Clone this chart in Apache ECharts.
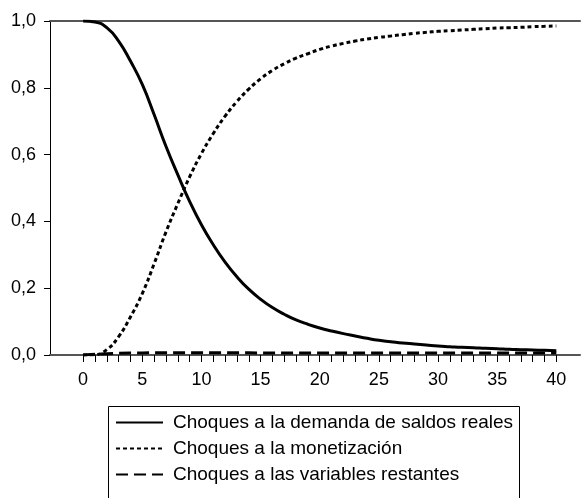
<!DOCTYPE html>
<html>
<head>
<meta charset="utf-8">
<script src="https://cdn.jsdelivr.net/npm/echarts@6/dist/echarts.min.js"></script>
<style>
html,body{margin:0;padding:0;background:#fff;}
#c{width:582px;height:498px;}
</style>
</head>
<body>
<div id="c"></div>
<script>
var periods = [0,1,2,3,4,5,6,7,8,9,10,11,12,13,14,15,16,17,18,19,20,21,22,23,24,25,26,27,28,29,30,31,32,33,34,35,36,37,38,39,40];
var xTickLabels = [0,5,10,15,20,25,30,35,40];
var yTickLabels = [0,0.2,0.4,0.6,0.8,1.0];
var seriesNames = ['Choques a la demanda de saldos reales','Choques a la monetización','Choques a las variables restantes'];
var demanda = [1.0,0.997,0.98,0.94,0.88,0.81,0.72,0.625,0.54,0.46,0.39,0.33,0.278,0.234,0.197,0.167,0.142,0.122,0.105,0.092,0.081,0.072,0.064,0.057,0.050,0.044,0.040,0.036,0.033,0.030,0.027,0.025,0.023,0.022,0.020,0.019,0.017,0.016,0.015,0.014,0.013];
var monetizacion = [0,0.001,0.016,0.055,0.114,0.184,0.273,0.368,0.453,0.533,0.603,0.663,0.715,0.759,0.796,0.827,0.852,0.872,0.889,0.902,0.915,0.925,0.933,0.940,0.946,0.951,0.955,0.959,0.963,0.966,0.969,0.971,0.973,0.975,0.977,0.979,0.980,0.981,0.983,0.984,0.985];
var restantes = [0,0.002,0.004,0.005,0.006,0.006,0.007,0.007,0.007,0.007,0.007,0.007,0.007,0.007,0.007,0.006,0.006,0.006,0.006,0.006,0.006,0.006,0.006,0.006,0.006,0.006,0.006,0.006,0.006,0.006,0.006,0.006,0.006,0.006,0.006,0.006,0.006,0.006,0.006,0.006,0.006];

function pairs(v){ return periods.map(function(p,i){ return [p, v[i]]; }); }
var FONT = '"Liberation Sans", Arial, sans-serif';

var chart = echarts.init(document.getElementById('c'), null, {renderer:'canvas'});
chart.setOption({
  animation:false,
  backgroundColor:'#fff',
  grid:{left:50, right:2, top:21, bottom:143, containLabel:false},
  xAxis:[{
    type:'value', min:-2.8, max:42, position:'bottom',
    axisLine:{show:true, onZero:false, lineStyle:{color:'#555', width:2}},
    axisTick:{show:true, length:7, inside:false, customValues:periods, lineStyle:{color:'#000', width:1}},
    axisLabel:{show:true, customValues:xTickLabels, margin:16, fontSize:18, fontFamily:FONT, color:'#000'},
    splitLine:{show:false}
  },{
    type:'value', min:-2.8, max:42, position:'top',
    axisLine:{show:true, onZero:false, lineStyle:{color:'#555', width:2}},
    axisTick:{show:false}, axisLabel:{show:false}, splitLine:{show:false}
  }],
  yAxis:{
    type:'value', min:0, max:1, interval:0.2,
    axisLine:{show:true, onZero:false, lineStyle:{color:'#000', width:1}},
    axisTick:{show:true, length:6, lineStyle:{color:'#000'}},
    axisLabel:{margin:14, fontSize:18, fontFamily:FONT, color:'#000',
      formatter:function(v){ return v.toFixed(1).replace('.', ','); }},
    splitLine:{show:false}
  },
  legend:{
    orient:'vertical', left:106, top:404,
    padding:[9,7,0,9],
    itemWidth:47, itemHeight:18, itemGap:7,
    itemStyle:{opacity:0},
    textStyle:{fontSize:19, fontFamily:FONT, color:'#000', padding:[0,0,0,5]},
    data:seriesNames
  },
  graphic:[{
    type:'rect', left:106, top:404, silent:true,
    shape:{width:411, height:110},
    style:{fill:'none', stroke:'#000', lineWidth:1}
  }],
  series:[
    {name:seriesNames[2], type:'line', data:pairs(restantes), symbol:'none', smooth:false,
      lineStyle:{color:'#000', width:3, type:[12,6]}, itemStyle:{color:'#000'}},
    {name:seriesNames[1], type:'line', data:pairs(monetizacion), symbol:'none', smooth:true,
      lineStyle:{color:'#000', width:3, type:[4,3]}, itemStyle:{color:'#000'}},
    {name:seriesNames[0], type:'line', data:pairs(demanda), symbol:'none', smooth:true,
      lineStyle:{color:'#000', width:3, type:'solid'}, itemStyle:{color:'#000'}}
  ]
});
</script>
</body>
</html>
